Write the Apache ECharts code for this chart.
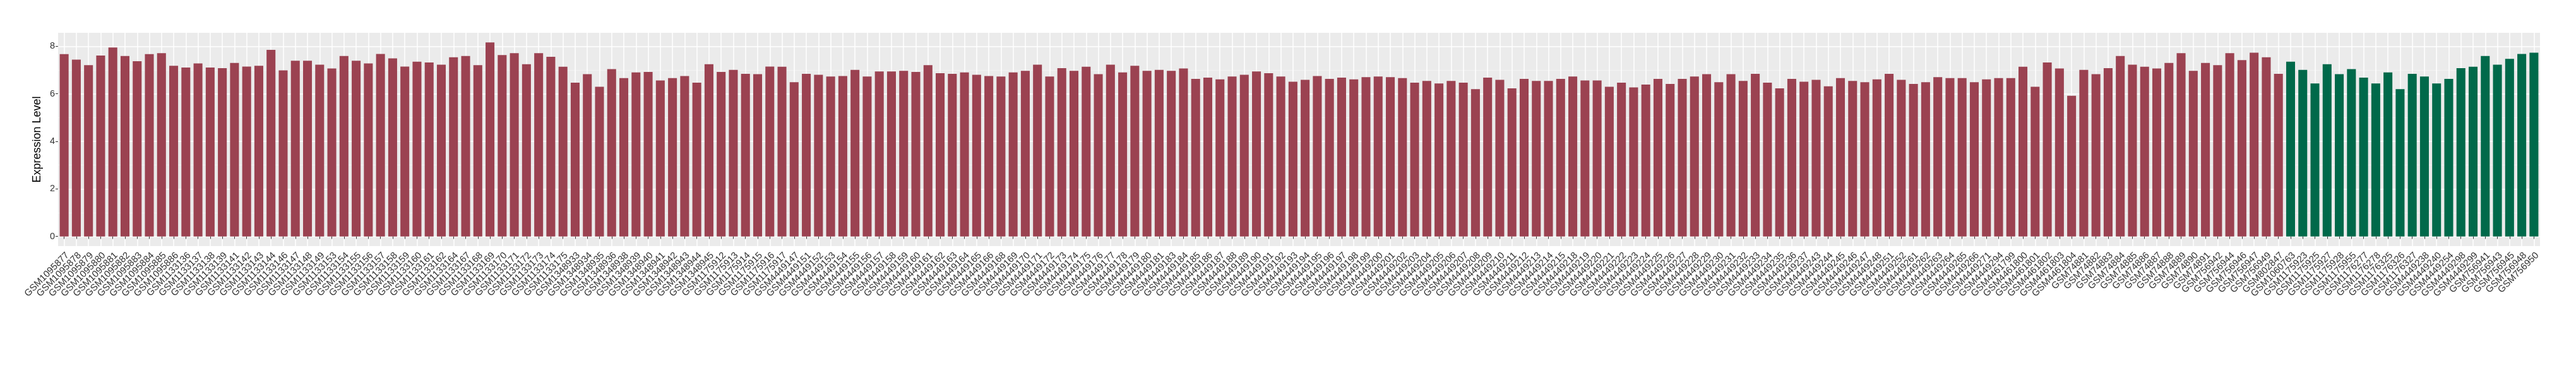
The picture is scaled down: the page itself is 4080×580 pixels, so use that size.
<!DOCTYPE html>
<html>
<head>
<meta charset="utf-8">
<script src="https://cdn.jsdelivr.net/npm/echarts@6/dist/echarts.min.js"></script>
<style>
html,body{margin:0;padding:0;background:#fff;}
#chart{width:4080px;height:580px;}
</style>
</head>
<body>
<div id="chart"></div>
<script>
// ---- data ----
var categories = [
"GSM1095877","GSM1095878","GSM1095879","GSM1095880","GSM1095881","GSM1095882","GSM1095883","GSM1095884","GSM1095885","GSM1095886",
"GSM1133136","GSM1133137","GSM1133138","GSM1133139","GSM1133141","GSM1133142","GSM1133143","GSM1133144","GSM1133146","GSM1133147",
"GSM1133148","GSM1133149","GSM1133153","GSM1133154","GSM1133155","GSM1133156","GSM1133157","GSM1133158","GSM1133159","GSM1133160",
"GSM1133161","GSM1133162","GSM1133164","GSM1133167","GSM1133168","GSM1133169","GSM1133170","GSM1133171","GSM1133172","GSM1133173",
"GSM1133174","GSM1133175","GSM1348933","GSM1348934","GSM1348935","GSM1348936","GSM1348938","GSM1348939","GSM1348940","GSM1348941",
"GSM1348942","GSM1348943","GSM1348944","GSM1348945","GSM1175912","GSM1175913","GSM1175914","GSM1175915","GSM1175916","GSM1175917",
"GSM4449147","GSM4449151","GSM4449152","GSM4449153","GSM4449154","GSM4449155","GSM4449156","GSM4449157","GSM4449158","GSM4449159",
"GSM4449160","GSM4449161","GSM4449162","GSM4449163","GSM4449164","GSM4449165","GSM4449166","GSM4449168","GSM4449169","GSM4449170",
"GSM4449171","GSM4449172","GSM4449173","GSM4449174","GSM4449175","GSM4449176","GSM4449177","GSM4449178","GSM4449179","GSM4449180",
"GSM4449181","GSM4449183","GSM4449184","GSM4449185","GSM4449186","GSM4449187","GSM4449188","GSM4449189","GSM4449190","GSM4449191",
"GSM4449192","GSM4449193","GSM4449194","GSM4449195","GSM4449196","GSM4449197","GSM4449198","GSM4449199","GSM4449200","GSM4449201",
"GSM4449202","GSM4449203","GSM4449204","GSM4449205","GSM4449206","GSM4449207","GSM4449208","GSM4449209","GSM4449210","GSM4449211",
"GSM4449212","GSM4449213","GSM4449214","GSM4449215","GSM4449218","GSM4449219","GSM4449220","GSM4449221","GSM4449222","GSM4449223",
"GSM4449224","GSM4449225","GSM4449226","GSM4449227","GSM4449228","GSM4449229","GSM4449230","GSM4449231","GSM4449232","GSM4449233",
"GSM4449234","GSM4449235","GSM4449236","GSM4449237","GSM4449243","GSM4449244","GSM4449245","GSM4449246","GSM4449247","GSM4449248",
"GSM4449251","GSM4449252","GSM4449261","GSM4449262","GSM4449263","GSM4449264","GSM4449265","GSM4449266","GSM4449271","GSM4449294",
"GSM4461799","GSM4461800","GSM4461801","GSM4461802","GSM4461803","GSM4461804","GSM74881","GSM74882","GSM74883","GSM74884",
"GSM74885","GSM74886","GSM74887","GSM74888","GSM74889","GSM74890","GSM74891","GSM756942","GSM756944","GSM756946",
"GSM756947","GSM756949","GSM802847","GSM1060763","GSM1175923","GSM1175925","GSM1175927","GSM1175928","GSM1175955","GSM1176277",
"GSM1176278","GSM1176325","GSM1176326","GSM1176327","GSM4449238","GSM4449240","GSM4449254","GSM4449298","GSM4449299","GSM756941",
"GSM756943","GSM756945","GSM756948","GSM756950"
];

// first group (red bars), in category order
var valuesGroupA = [
7.67,7.44,7.21,7.61,7.95,7.59,7.37,7.67,7.71,7.18,
7.11,7.28,7.11,7.08,7.30,7.15,7.18,7.85,6.99,7.39,
7.39,7.23,7.07,7.59,7.39,7.28,7.68,7.49,7.15,7.35,
7.32,7.23,7.54,7.59,7.21,8.16,7.63,7.71,7.25,7.71,
7.56,7.14,6.47,6.83,6.30,7.04,6.66,6.90,6.92,6.56,
6.66,6.75,6.47,7.25,6.92,7.01,6.84,6.83,7.15,7.14,
6.49,6.84,6.80,6.73,6.75,7.01,6.73,6.94,6.94,6.97,
6.92,7.21,6.87,6.84,6.90,6.80,6.75,6.73,6.90,6.97,
7.23,6.73,7.08,6.97,7.14,6.83,7.23,6.90,7.18,6.97,
7.01,6.97,7.07,6.63,6.68,6.61,6.73,6.80,6.94,6.87,
6.73,6.51,6.59,6.75,6.63,6.68,6.61,6.70,6.73,6.70,
6.66,6.47,6.54,6.44,6.54,6.47,6.20,6.68,6.59,6.23,
6.63,6.54,6.54,6.63,6.73,6.56,6.56,6.30,6.47,6.27,
6.39,6.63,6.42,6.63,6.73,6.83,6.49,6.83,6.54,6.84,
6.47,6.23,6.63,6.51,6.59,6.32,6.66,6.54,6.49,6.61,
6.84,6.59,6.42,6.49,6.70,6.66,6.66,6.49,6.61,6.66,
6.66,7.14,6.30,7.32,7.07,5.92,7.01,6.83,7.08,7.59,
7.23,7.14,7.07,7.30,7.71,6.97,7.30,7.21,7.71,7.42,
7.73,7.54,6.84
];
// second group (green bars), following group A
var valuesGroupB = [
7.35,7.01,6.44,7.25,6.83,7.04,6.68,6.44,6.90,6.20,
6.84,6.73,6.44,6.63,7.08,7.14,7.59,7.23,7.47,7.68,
7.73
];

var yMajorTicks = [0, 2, 4, 6, 8];
var yMinorTicks = [1, 3, 5, 7];

var colorA = '#9B4251';
var colorB = '#00694A';

// ---- chart ----
var barData = valuesGroupA.map(function (v) { return { value: v, itemStyle: { color: colorA } }; })
  .concat(valuesGroupB.map(function (v) { return { value: v, itemStyle: { color: colorB } }; }));

var font = '"Liberation Sans", Arial, Helvetica, sans-serif';
var chart = echarts.init(document.getElementById('chart'), null, { renderer: 'canvas' });
chart.setOption({
  animation: false,
  backgroundColor: '#ffffff',
  grid: {
    left: 92, right: 57, top: 52, bottom: 190,
    show: true, backgroundColor: '#EBEBEB', borderWidth: 0, containLabel: false
  },
  xAxis: {
    type: 'category',
    data: categories,
    boundaryGap: true,
    axisLine: { show: false },
    axisTick: { show: true, alignWithLabel: true, interval: 0, length: 4, lineStyle: { color: '#333333', width: 1 } },
    splitLine: { show: true, alignWithLabel: true, interval: 0, lineStyle: { color: '#ffffff', width: 1.5 } },
    axisLabel: {
      interval: 0, rotate: 45, margin: 7,
      align: 'right', verticalAlign: 'top',
      fontFamily: font, fontSize: 15, color: '#333333'
    }
  },
  yAxis: [{
    type: 'value',
    min: -0.408, max: 8.568,
    name: 'Expression Level',
    nameLocation: 'middle',
    nameGap: 19,
    nameTextStyle: { fontFamily: font, fontSize: 18, color: '#000000' },
    axisLine: { show: false },
    axisTick: { show: true, length: 4, customValues: yMajorTicks, lineStyle: { color: '#333333' } },
    axisLabel: { customValues: yMajorTicks, margin: 5, fontFamily: font, fontSize: 14.5, color: '#333333' },
    splitLine: { show: true, lineStyle: { color: '#ffffff', width: 1.6 } }
  }, {
    type: 'value',
    position: 'left',
    min: -0.408, max: 8.568,
    axisLine: { show: false },
    axisTick: { show: false, customValues: yMinorTicks },
    axisLabel: { show: false, customValues: yMinorTicks },
    splitLine: { show: true, lineStyle: { color: '#F5F5F5', width: 0.8 } }
  }],
  series: [{
    type: 'bar',
    yAxisIndex: 0,
    data: barData,
    barWidth: '73%',
    z: 5
  }]
});
</script>
</body>
</html>
